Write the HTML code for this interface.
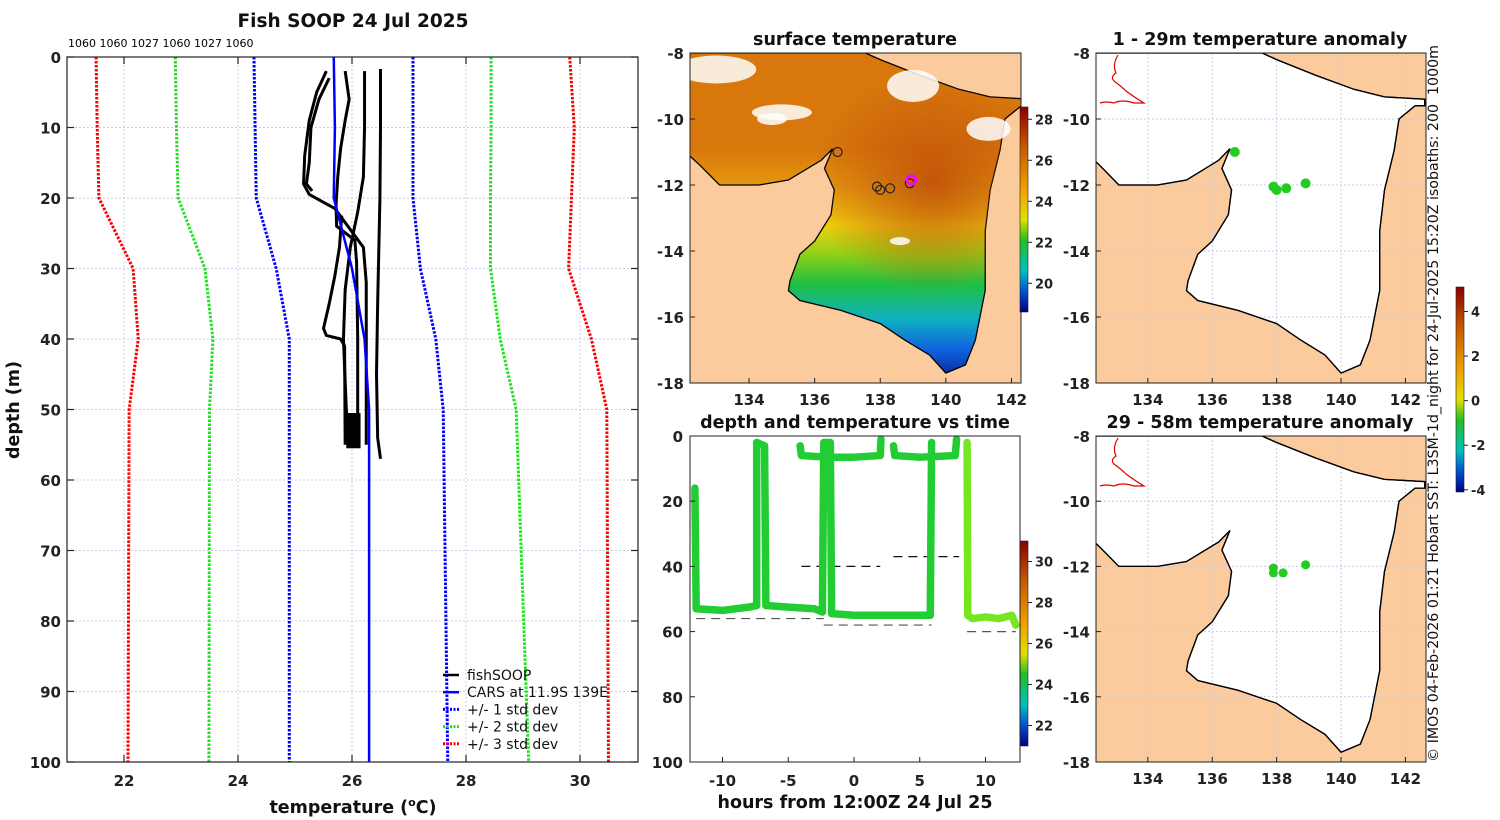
<!DOCTYPE html>
<html><head><meta charset="utf-8"><style>
html,body{margin:0;padding:0;background:#fff;}
svg{display:block;font-family:"DejaVu Sans","Liberation Sans",sans-serif;}
.t{font-weight:bold;font-size:17.5px;fill:#111;}
.tk{font-weight:bold;font-size:15px;fill:#222;}
</style></head><body>
<svg id="fig" width="1500" height="820" xmlns="http://www.w3.org/2000/svg">
<defs>
<linearGradient id="sstGrad" x1="0" y1="0" x2="0" y2="1">
<stop offset="0" stop-color="#d8780c"/><stop offset="0.3" stop-color="#d8780c"/>
<stop offset="0.42" stop-color="#e49a10"/><stop offset="0.54" stop-color="#f0d010"/>
<stop offset="0.63" stop-color="#90d018"/><stop offset="0.72" stop-color="#20c040"/>
<stop offset="0.83" stop-color="#10b0c0"/><stop offset="0.93" stop-color="#1060e0"/><stop offset="1" stop-color="#0830a0"/>
</linearGradient>
<radialGradient id="sstHot" cx="0.72" cy="0.4" r="0.35">
<stop offset="0" stop-color="#c0500a" stop-opacity="0.9"/><stop offset="1" stop-color="#c0500a" stop-opacity="0"/>
</radialGradient>
<linearGradient id="cbSst" x1="0" y1="0" x2="0" y2="1">
<stop offset="0" stop-color="#8c0000"/><stop offset="0.2" stop-color="#c85a00"/><stop offset="0.4" stop-color="#f0a000"/>
<stop offset="0.55" stop-color="#e0e000"/><stop offset="0.65" stop-color="#20c020"/><stop offset="0.8" stop-color="#00c0c0"/>
<stop offset="0.9" stop-color="#0050d0"/><stop offset="1" stop-color="#000080"/>
</linearGradient>
<clipPath id="clipM1"><rect x="690" y="53" width="331" height="330"/></clipPath>
<clipPath id="clipM2"><rect x="1096" y="53" width="330" height="330"/></clipPath>
<clipPath id="clipM3"><rect x="1096" y="436" width="330" height="326"/></clipPath>
<clipPath id="clipP"><rect x="67" y="57" width="571" height="705"/></clipPath>
<clipPath id="clipT"><rect x="690" y="436" width="330" height="326"/></clipPath>
</defs>
<g id="root"></g>
</svg>
<script>
// ---------- data ----------
const depthTicks=[0,10,20,30,40,50,60,70,80,90,100];
const tempTicks=[22,24,26,28,30];
const stdDepths=[0,10,20,30,40,50,100];
const red1=[21.51,21.53,21.56,22.16,22.25,22.09,22.07];
const green1=[22.9,22.92,22.95,23.42,23.56,23.5,23.49];
const blue1=[24.28,24.3,24.32,24.67,24.9,24.9,24.9];
const carsT=[25.68,25.7,25.68,26.0,26.22,26.3,26.3];
const blue2=[27.07,27.07,27.07,27.2,27.47,27.6,27.68];
const green2=[28.44,28.44,28.43,28.43,28.6,28.88,29.1];
const red2=[29.82,29.9,29.85,29.8,30.2,30.47,30.5];
const prof1T=[26.5,26.5,26.49,26.45,26.43,26.45,26.5];
const prof1D=[1.7,10,20,35,45,54,57];
const prof2T=[26.22,26.22,26.2,26.1,25.97,25.88,25.85,25.9,25.95];
const prof2D=[2,10,17,22,27,33,40,50,55];
const prof3T=[25.88,25.95,25.88,25.8,25.75,25.72,25.73,26.05,26.08,26.1,26.1];
const prof3D=[2,6,9,13,17,21,24,26,29,40,55];
const prof4T=[25.55,25.38,25.25,25.17,25.15,25.25,25.7,26.2,26.25,26.25];
const prof4D=[2,5,9,14,18,19.5,21.5,27,32,55];
const prof5T=[25.6,25.42,25.28,25.25,25.2,25.3];
const prof5D=[3,6,10,15,18,19];
const prof6T=[25.82,25.78,25.7,25.6,25.5,25.55,25.8,25.87,25.88];
const prof6D=[22.5,27,31,35,38.5,39.5,40,41,55];
const topLabels=["1060","1060","1027","1060","1027","1060"];
// time series
const tsTimes=[-12.1,-12,-10,-8,-7.4,-7.4,-6.8,-6.7,-5,-3,-2.4,-2.3,-1.8,-1.7,0,3,5.8,5.9];
const tsDepths=[16,53,53.5,52.5,52,2,3,52,52.5,53,54,2,2,54.5,55,55,55,2];
const tsSurfT=[-4.1,-4,-2,0,2.0,2.05];
const tsSurfD=[3,6,6.5,6.5,6,1];
const tsSurf2T=[3.0,3.1,5,7.7,7.8];
const tsSurf2D=[3,6,6.5,6,1];
const tsLastT=[8.6,8.65,9,10,11,12,12.3];
const tsLastD=[2,55,56,55.5,56,55,58];
const dashT0=[-12,-2.3,-4,3,8.6];
const dashT1=[-2.3,5.9,2,8,12.3];
const dashD=[56,58,40,37,60];
const mapLonTicks=[134,136,138,140,142];
const mapLatTicks=[-8,-10,-12,-14,-16,-18];
const sstTicks=[20,22,24,26,28];
const tsCbTicks=[22,24,26,28,30];
const anomTicks=[-4,-2,0,2,4];
const obsLon=[136.7,137.9,138.0,138.3,138.9];
const obsLat=[-11.0,-12.05,-12.15,-12.1,-11.95];
const obs2Lon=[137.9,137.9,138.2,138.9];
const obs2Lat=[-12.05,-12.2,-12.2,-11.95];
const coastLon=[132,132.5,133.1,134.3,135.2,136.2,136.55,136.3,136.6,136.5,136.0,135.55,135.25,135.2,135.55,136.8,138,138.75,139.5,140,140.6,140.9,141.2,141.2,141.35,141.65,141.8,142.3,142.6,142.6,141.35,140.4,139.2,138,137.55,132];
const coastLat=[-10.94,-11.4,-12,-12,-11.85,-11.25,-10.9,-11.5,-12.15,-12.9,-13.7,-14.1,-14.9,-15.2,-15.5,-15.8,-16.2,-16.7,-17.15,-17.7,-17.45,-16.7,-15.2,-13.4,-12.15,-10.95,-10.0,-9.6,-9.6,-9.4,-9.33,-9.1,-8.67,-8.2,-8,-8];

const NS='http://www.w3.org/2000/svg';
const root=document.getElementById('root');
function el(tag,attrs,parent){const e=document.createElementNS(NS,tag);for(const k in attrs)e.setAttribute(k,attrs[k]);(parent||root).appendChild(e);return e;}
function txt(s,x,y,cls,anchor,parent){const e=el('text',{x:x,y:y,class:cls,'text-anchor':anchor||'middle'},parent);e.textContent=s;return e;}

// ---------- profile panel ----------
const px=t=>67+(t-21)*57, py=d=>57+d*7.05;
const gP=el('g',{});


const gridP=el('g',{stroke:'#c8cce8','stroke-width':1,'stroke-dasharray':'2,2'},gP);


for(const t of tempTicks){el('line',{x1:px(t),x2:px(t),y1:57,y2:762},gridP);}
for(const d of depthTicks){el('line',{x1:67,x2:638,y1:py(d),y2:py(d)},gridP);}
const clipG=el('g',{'clip-path':'url(#clipP)'},gP);
function stdLine(arr,color,name,dash){
  const pts=arr.map((t,i)=>px(t)+','+py(stdDepths[i])).join(' ');
  const l=el('polyline',{points:pts,fill:'none',stroke:color,'stroke-width':dash?3:2.5,'stroke-dasharray':dash?'2.5,1.5':'none'},clipG);
  
  
}
stdLine(red1,'#ff0000','minus-3-std-line',true);
stdLine(green1,'#22e022','minus-2-std-line',true);
stdLine(blue1,'#0000ff','minus-1-std-line',true);
stdLine(blue2,'#0000ff','plus-1-std-line',true);
stdLine(green2,'#22e022','plus-2-std-line',true);
stdLine(red2,'#ff0000','plus-3-std-line',true);
const profs=[[prof1T,prof1D],[prof2T,prof2D],[prof3T,prof3D],[prof4T,prof4D],[prof5T,prof5D],[prof6T,prof6D]];
profs.forEach((p,k)=>{
  const pts=p[0].map((t,i)=>px(t)+','+py(p[1][i])).join(' ');
  const l=el('polyline',{points:pts,fill:'none',stroke:'#000','stroke-width':3,'stroke-linejoin':'round'},clipG);
  
  
});
const blob=el('rect',{x:px(25.9),y:py(50.5),width:px(26.15)-px(25.9),height:py(55.5)-py(50.5),fill:'#000'},clipG);


const cars=el('polyline',{points:carsT.map((t,i)=>px(t)+','+py(stdDepths[i])).join(' '),fill:'none',stroke:'#0000ff','stroke-width':2.5},clipG);


const frameP=el('rect',{x:67,y:57,width:571,height:705,fill:'none',stroke:'#222','stroke-width':1.2},gP);


const tkP=el('g',{stroke:'#222','stroke-width':1.2},gP);
for(const t of tempTicks){el('line',{x1:px(t),x2:px(t),y1:762,y2:755},tkP);el('line',{x1:px(t),x2:px(t),y1:57,y2:64},tkP);}
for(const d of depthTicks){el('line',{x1:67,x2:74,y1:py(d),y2:py(d)},tkP);el('line',{x1:638,x2:631,y1:py(d),y2:py(d)},tkP);}
for(const t of tempTicks){const e=txt(String(t),px(t),786,'tk','middle',gP);}
for(const d of depthTicks){const e=txt(String(d),61,py(d)+6,'tk','end',gP);}
const tl=el('text',{x:68,y:47,'font-size':'11px',fill:'#000'},gP);
tl.textContent=topLabels.join(' ');


const tP=txt('Fish SOOP 24 Jul 2025',353,27,'t','middle',gP);
tP.setAttribute('style','font-size:18.5px');


const xl=el('text',{x:353,y:813,class:'t','text-anchor':'middle'},gP);
xl.innerHTML='temperature (<tspan dy="-7" font-size="11">o</tspan><tspan dy="7">C)</tspan>';


const yl=el('text',{x:0,y:0,class:'t','text-anchor':'middle',transform:'translate(19,410) rotate(-90)'},gP);
yl.textContent='depth (m)';


// legend
const legNames=['fishSOOP','CARS at 11.9S 139E','+/- 1 std dev','+/- 2 std dev','+/- 3 std dev'];
const legCols=['#000','#0000ff','#0000ff','#22e022','#ff0000'];
const gL=el('g',{},gP);


legNames.forEach((n,i)=>{
  const y=675+i*17.2;
  const ln=el('line',{x1:443,x2:459,y1:y,y2:y,stroke:legCols[i],'stroke-width':i<2?2.5:3,'stroke-dasharray':i<2?'none':'2,1.5'},gL);
  
  
  const e=el('text',{x:467,y:y+5,'font-size':'14px',fill:'#111'},gL);
  e.textContent=n;
  
  
});

// ---------- maps ----------
function drawMap(name,x0,y0,w,h,pxd,pyd,lon0,clip,sst){
  const mx=lon=>x0+(lon-lon0)*pxd, my=lat=>y0+(-8-lat)*pyd;
  const g=el('g',{});
  
  
  const cg=el('g',{'clip-path':'url(#'+clip+')'},g);
  el('rect',{x:x0,y:y0,width:w,height:h,fill:'#fbcb9d'},cg);
  const pts=coastLon.map((l,i)=>mx(l)+','+my(coastLat[i])).join(' ');
  const sea=el('polygon',{points:pts,fill:sst?'url(#sstGrad)':'#fff',stroke:'#000','stroke-width':1.3},cg);
  
  
  if(sst){
    el('polygon',{points:pts,fill:'url(#sstHot)'},cg);
    const clouds=[[133,-8.5,40,14],[135,-9.8,30,8],[139,-9,26,16],[141.3,-10.3,22,12],[134.7,-10,15,6],[138.6,-13.7,10,4]];
    clouds.forEach(c=>{const e=el('ellipse',{cx:mx(c[0]),cy:my(c[1]),rx:c[2],ry:c[3],fill:'#fff',opacity:0.85},cg);});
  } else {
    const gr=el('g',{stroke:'#c8cce8','stroke-width':1,'stroke-dasharray':'2,2'},cg);
    for(const l of mapLonTicks)el('line',{x1:mx(l),x2:mx(l),y1:y0,y2:y0+h},gr);
    for(const l of mapLatTicks)el('line',{x1:x0,x2:x0+w,y1:my(l),y2:my(l)},gr);
    el('polygon',{points:pts,fill:'none',stroke:'#000','stroke-width':1.3},cg);
    el('path',{d:`M${x0+22},${y0+2} q-6,10 -2,18 q-6,4 -2,8 q8,6 12,10 q8,6 18,12 l-10,0 q-12,-4 -20,0 q-8,-2 -14,0`,fill:'none',stroke:'#d00','stroke-width':1.2},cg);
  }
  const fr=el('rect',{x:x0,y:y0,width:w,height:h,fill:'none',stroke:'#222','stroke-width':1},g);
  
  
  for(const l of mapLonTicks){
    el('line',{x1:mx(l),x2:mx(l),y1:y0+h,y2:y0+h-5,stroke:'#222'},g);
    const e=txt(String(l),mx(l),y0+h+22,'tk','middle',g);
    
    
  }
  for(const l of mapLatTicks){
    el('line',{x1:x0,x2:x0+5,y1:my(l),y2:my(l),stroke:'#222'},g);
    const e=txt(String(l),x0-6,my(l)+6,'tk','end',g);
    
    
  }
  return {g,mx,my};
}
const m1=drawMap('sst-map',690,53,331,330,32.8,33,132.2,'clipM1',true);
obsLon.forEach((l,i)=>{const c=el('circle',{cx:m1.mx(l),cy:m1.my(obsLat[i]),r:4.5,fill:'none',stroke:'#222','stroke-width':1.2},m1.g);});
const cur=el('circle',{cx:m1.mx(138.95),cy:m1.my(-11.85),r:4.5,fill:'none',stroke:'#ff00ff','stroke-width':2.5},m1.g);


const t1=txt('surface temperature',855,45,'t','middle');



const m2=drawMap('anomaly-map-upper',1096,53,330,330,32.2,33,132.39,'clipM2',false);
obsLon.forEach((l,i)=>{const c=el('circle',{cx:m2.mx(l),cy:m2.my(obsLat[i]),r:5,fill:'#22cc22'},m2.g);});
const t2=txt('1 - 29m temperature anomaly',1260,45,'t','middle');


const m3=drawMap('anomaly-map-lower',1096,436,330,326,32.2,32.6,132.39,'clipM3',false);
obs2Lon.forEach((l,i)=>{const c=el('circle',{cx:m3.mx(l),cy:m3.my(obs2Lat[i]),r:4.5,fill:'#22cc22'},m3.g);});
const t3=txt('29 - 58m temperature anomaly',1260,428,'t','middle');



// colorbars
function colorbar(name,x,y0,y1,vmin,vmax,ticks,grad){
  const g=el('g',{});
  
  
  el('rect',{x:x,y:y0,width:8,height:y1-y0,fill:grad,stroke:'#222','stroke-width':0.6},g);
  const cy=v=>y1-(v-vmin)/(vmax-vmin)*(y1-y0);
  for(const t of ticks){
    el('line',{x1:x+8,x2:x+12,y1:cy(t),y2:cy(t),stroke:'#222'},g);
    const e=el('text',{x:x+15,y:cy(t)+5,'font-size':'13px','font-weight':'bold',fill:'#222'},g);
    e.textContent=String(t);
    
    
  }
}
colorbar('sst-colorbar',1020,107,312,18.6,28.6,sstTicks,'url(#cbSst)');
colorbar('time-colorbar',1020,541,746,21,31,tsCbTicks,'url(#cbSst)');
colorbar('anomaly-colorbar',1456,287,492,-4.1,5.1,anomTicks,'url(#cbSst)');

// ---------- time series ----------
const tx=h=>854+h*13.15, ty=d=>436+d*3.26;
const gT=el('g',{});


const cT=el('g',{'clip-path':'url(#clipT)'},gT);
dashT0.forEach((t0,i)=>{
  const l=el('line',{x1:tx(t0),x2:tx(dashT1[i]),y1:ty(dashD[i]),y2:ty(dashD[i]),stroke:i<2||i==4?'#555':'#111','stroke-width':1.2,'stroke-dasharray':'9,6'},cT);
  
  
});
function track(T,D,col,name){
  const l=el('polyline',{points:T.map((t,i)=>tx(t)+','+ty(D[i])).join(' '),fill:'none',stroke:col,'stroke-width':7.5,'stroke-linecap':'round','stroke-linejoin':'round'},cT);
  
  
}
track(tsTimes,tsDepths,'#22cc33','fishsoop-depth-track');
track(tsSurfT,tsSurfD,'#22cc33','surface-track-1');
track(tsSurf2T,tsSurf2D,'#22cc33','surface-track-2');
track(tsLastT,tsLastD,'#77e622','fishsoop-depth-track-late');
const frT=el('rect',{x:690,y:436,width:330,height:326,fill:'none',stroke:'#222','stroke-width':1},gT);


const hTicks=[-10,-5,0,5,10], dT=[0,20,40,60,80,100];
for(const h of hTicks){el('line',{x1:tx(h),x2:tx(h),y1:762,y2:757,stroke:'#222'},gT);const e=txt(String(h),tx(h),786,'tk','middle',gT);}
for(const d of dT){el('line',{x1:690,x2:695,y1:ty(d),y2:ty(d),stroke:'#222'},gT);const e=txt(String(d),683,ty(d)+6,'tk','end',gT);}
const t4=txt('depth and temperature vs time',855,428,'t','middle',gT);


const t5=txt('hours from 12:00Z 24 Jul 25',855,808,'t','middle',gT);



const cr=el('text',{x:0,y:0,'font-size':'14.2px',fill:'#111','text-anchor':'start',transform:'translate(1438,762) rotate(-90)'});
cr.textContent='© IMOS 04-Feb-2026 01:21 Hobart SST: L3SM-1d_night for 24-Jul-2025 15:20Z isobaths: 200\u00a0 1000m';


</script>
</body></html>
